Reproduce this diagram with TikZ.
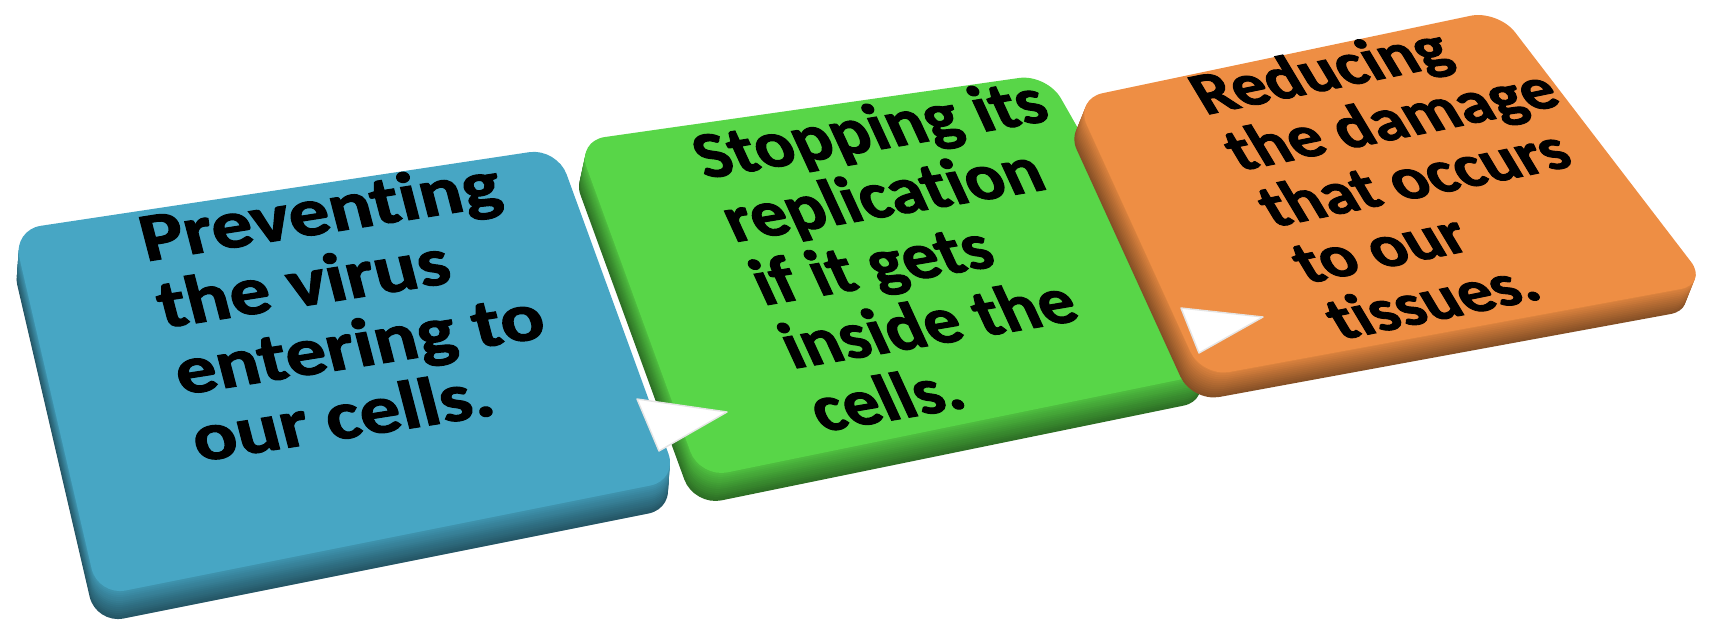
\documentclass[tikz,border=0pt]{standalone}
\usepackage{fontspec}
\setmainfont{Carlito}[Ligatures=NoCommon, BoldFeatures={FakeBold=1.5}]
\definecolor{slabblue}{RGB}{71,166,196}
\definecolor{slabgreen}{RGB}{88,214,72}
\definecolor{slaborange}{RGB}{238,142,68}

\begin{document}
\begin{tikzpicture}[x=0.01cm, y=-0.01cm,
    slab/.style={rounded corners=0.28cm},
    slabtext/.style={font=\fontsize{#1}{#1}\selectfont\bfseries, align=left,
                     inner sep=0pt, anchor=north west, text=black},
    pointer/.style={fill=white, draw=gray!20, line join=round}
  ]
  \useasboundingbox (0,0) rectangle (1714,621);
  % Blue slab
  \foreach \d in {28,26,...,2} {
    \pgfmathtruncatemacro\m{52+(28-\d)*1.4}
    \fill[slab, slabblue!\m!black, shift={(-2*\d/28,\d)}]
      (13,230) -- (557,148) -- (678,480) -- (98,596) -- cycle;
  }
  \fill[slab, slabblue] (13,230) -- (557,148) -- (678,480) -- (98,596) -- cycle;
  % Green slab
  \foreach \d in {28,26,...,2} {
    \pgfmathtruncatemacro\m{52+(28-\d)*1.4}
    \fill[slab, slabgreen!\m!black, shift={(-6*\d/28,\d)}]
      (577,141) -- (1047,74) -- (1217,372) -- (700,478) -- cycle;
  }
  \fill[slab, slabgreen] (577,141) -- (1047,74) -- (1217,372) -- (700,478) -- cycle;
  % Orange slab
  \foreach \d in {25,23,...,1} {
    \pgfmathtruncatemacro\m{56+(25-\d)*1.5}
    \fill[slab, slaborange!\m!black, shift={(-10*\d/25,\d)}]
      (1075,99) -- (1498,10) -- (1708,284) -- (1202,377) -- cycle;
  }
  \fill[slab, slaborange] (1075,99) -- (1498,10) -- (1708,284) -- (1202,377) -- cycle;
  % Texts
  \node[slabtext=19, cm={1.2,0.19,-0.26,1,(0,0)}] (prevent) at (133,214)
    {Preventing\\the virus\\entering to\\our cells.};
  \node[slabtext=18, cm={1.12,0.19,-0.46,1,(0,0)}] (stop) at (684,134)
    {Stopping its\\replication\\if it gets\\inside the\\cells.};
  \node[slabtext=16, cm={1.17,0.24,-0.6,1,(0,0)}] (reduce) at (1181,75)
    {Reducing\\the damage\\that occurs\\to our\\tissues.};
  % Pointers
  \filldraw[pointer] (637,399) -- (727,412) -- (659,451) -- cycle;
  \filldraw[pointer] (1181,308) -- (1263,317) -- (1199,353) -- cycle;
\end{tikzpicture}
\end{document}
